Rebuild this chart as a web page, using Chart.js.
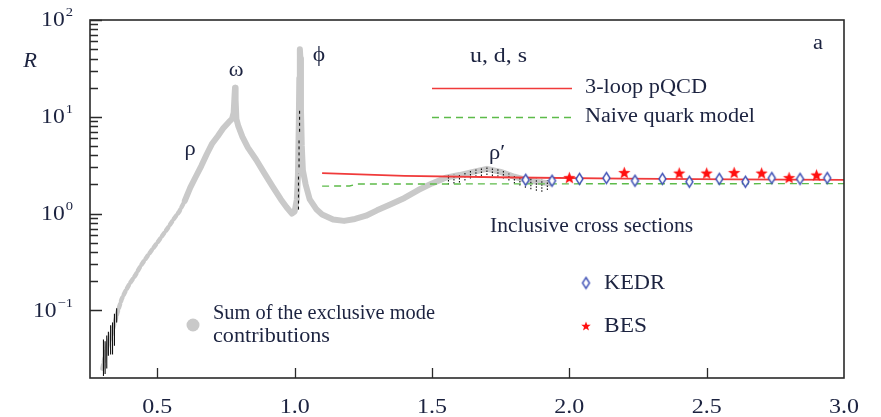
<!DOCTYPE html>
<html>
<head>
<meta charset="utf-8">
<script src="https://cdn.jsdelivr.net/npm/chart.js@4.4.1/dist/chart.umd.min.js"></script>
<style>
  html, body { margin: 0; padding: 0; background: #fff; }
  #wrap { width: 881px; height: 417px; }
</style>
</head>
<body>
<div id="wrap"><canvas id="c" width="881" height="417"></canvas></div>
<script>
// R ratio of e+e- -> hadrons below 3 GeV (u, d, s region)

// Axis ticks
const xTicks = [0.5, 1.0, 1.5, 2.0, 2.5, 3.0];
const xTickLabels = ['0.5', '1.0', '1.5', '2.0', '2.5', '3.0'];
const yDecades = [-1, 0, 1, 2];

// Sum of the exclusive mode contributions: low-energy rise (dotted look)
const riseE = [0.300, 0.310, 0.320, 0.333, 0.345, 0.355, 0.370, 0.385, 0.400, 0.420,
               0.440, 0.460, 0.480, 0.500, 0.520, 0.540, 0.560, 0.580, 0.600];
const riseR = [0.025, 0.034, 0.045, 0.056, 0.075, 0.095, 0.13, 0.16, 0.19, 0.23,
               0.29, 0.35, 0.42, 0.50, 0.60, 0.72, 0.88, 1.05, 1.35];

// Sum of the exclusive mode contributions: rho/omega, phi and rho' region
const resE = [0.600, 0.620, 0.640, 0.660, 0.680, 0.700, 0.720, 0.740, 0.760, 0.772,
              0.778, 0.781, 0.783, 0.785, 0.788, 0.795, 0.810, 0.830, 0.860, 0.890,
              0.920, 0.950, 0.970, 0.990, 1.000, 1.008, 1.012, 1.015, 1.017, 1.019,
              1.021, 1.023, 1.026, 1.030, 1.040, 1.055, 1.080, 1.100, 1.140, 1.180,
              1.220, 1.260, 1.300, 1.350, 1.400, 1.450, 1.500, 1.550, 1.600, 1.650,
              1.700, 1.750, 1.800, 1.850, 1.900, 1.930];
const resR = [1.35, 1.85, 2.4, 3.1, 4.1, 5.3, 6.3, 7.6, 8.8, 9.5,
              11, 16, 20, 15, 9.5, 8.0, 6.2, 4.8, 3.6, 2.6,
              1.9, 1.4, 1.17, 1.0, 1.05, 1.4, 2.5, 8, 25, 50,
              40, 12, 5.0, 2.8, 2.0, 1.4, 1.1, 0.98, 0.87, 0.84,
              0.88, 0.95, 1.08, 1.25, 1.45, 1.75, 2.05, 2.35, 2.5, 2.7,
              2.9, 2.7, 2.4, 2.2, 2.1, 2.05];

// Experimental error bars on the exclusive sum: energy, lower, upper
const errE  = [0.304, 0.310, 0.316, 0.322, 0.330, 0.337, 0.344, 0.352,
               1.014, 1.016, 1.018,
               1.56, 1.58, 1.60, 1.62, 1.64, 1.66, 1.68, 1.70, 1.72, 1.74,
               1.76, 1.78, 1.80, 1.82, 1.84, 1.86, 1.88, 1.90, 1.92];
const errLo = [0.021, 0.022, 0.025, 0.034, 0.035, 0.035, 0.043, 0.075,
               1.1, 3.0, 7.0,
               2.0, 2.05, 2.1, 2.2, 2.3, 2.4, 2.45, 2.5, 2.45, 2.4,
               2.3, 2.2, 2.05, 1.95, 1.85, 1.78, 1.72, 1.68, 1.75];
const errHi = [0.050, 0.048, 0.055, 0.060, 0.070, 0.075, 0.092, 0.105,
               2.6, 6.0, 12.0,
               2.5, 2.55, 2.6, 2.65, 2.75, 2.85, 2.95, 3.05, 3.0, 2.9,
               2.8, 2.6, 2.5, 2.4, 2.35, 2.3, 2.3, 2.25, 2.2];

// Theory curves
const pqcdE  = [1.10, 1.40, 1.80, 2.20, 2.60, 3.00];
const pqcdR  = [2.62, 2.45, 2.36, 2.30, 2.26, 2.23];
const naiveE = [1.10, 1.20, 1.23, 3.00];
const naiveR = [1.92, 1.93, 2.02, 2.04];

// Inclusive measurements
const kedrE = [1.841, 1.937, 2.037, 2.135, 2.239, 2.339, 2.437, 2.546, 2.641, 2.737, 2.840, 2.939];
const kedrR = [2.23, 2.18, 2.28, 2.33, 2.18, 2.28, 2.13, 2.28, 2.13, 2.33, 2.28, 2.33];
const besE  = [2.0, 2.2, 2.4, 2.5, 2.6, 2.7, 2.8, 2.9];
const besR  = [2.35, 2.65, 2.62, 2.62, 2.65, 2.62, 2.35, 2.5];

const pts = (xs, ys) => xs.map((x, i) => ({ x: x, y: ys[i] }));

const TEXT = '#1c2340';
const SERIF = '"Liberation Serif", "Times New Roman", serif';
const GREY = '#c9c9c9';
const RED = '#f03a3a';
const GREEN = '#5dbb4a';
const BLUE = '#3d4fb5';

// Marker images: narrow open diamond and filled five-point star
function diamondImg(w, h) {
  const c = document.createElement('canvas');
  c.width = w + 4; c.height = h + 4;
  const g = c.getContext('2d');
  g.beginPath();
  g.moveTo(c.width / 2, 2);
  g.lineTo(c.width - 2, c.height / 2);
  g.lineTo(c.width / 2, c.height - 2);
  g.lineTo(2, c.height / 2);
  g.closePath();
  g.fillStyle = '#fff';
  g.fill();
  g.lineWidth = 1.4;
  g.strokeStyle = BLUE;
  g.stroke();
  return c;
}
function starImg(r) {
  const s = Math.ceil(r * 2 + 2);
  const c = document.createElement('canvas');
  c.width = s; c.height = s;
  const g = c.getContext('2d');
  const cx = s / 2, cy = s / 2 + r * 0.08;
  g.beginPath();
  for (let i = 0; i < 10; i++) {
    const rr = i % 2 === 0 ? r : r * 0.42;
    const a = -Math.PI / 2 + i * Math.PI / 5;
    const px = cx + rr * Math.cos(a), py = cy + rr * Math.sin(a);
    if (i === 0) g.moveTo(px, py); else g.lineTo(px, py);
  }
  g.closePath();
  g.fillStyle = '#ff1010';
  g.fill();
  return c;
}
const diamond = diamondImg(7, 11);
const star = starImg(6.5);
const starSmall = starImg(5);

// Text with a horizontal stretch; if width is given the string is fitted to it
function text(ctx, str, x, y, size, opts) {
  opts = opts || {};
  ctx.save();
  ctx.font = (opts.italic ? 'italic ' : '') + size + 'px ' + SERIF;
  ctx.textBaseline = 'middle';
  ctx.textAlign = 'left';
  const w = ctx.measureText(str).width;
  const sx = opts.width ? opts.width / w : (opts.sx || 1.12);
  const sw = w * sx;
  let x0 = x;
  if (opts.align === 'center') x0 = x - sw / 2;
  else if (opts.align === 'right') x0 = x - sw;
  ctx.translate(x0, y);
  ctx.scale(sx, 1);
  ctx.fillText(str, 0, 0);
  ctx.restore();
  return sw;
}

function drawSup(ctx, base, sup, xRight, y) {
  ctx.save();
  ctx.font = '13px ' + SERIF;
  const ws = ctx.measureText(sup).width * 1.12;
  ctx.restore();
  text(ctx, sup, xRight - ws, y - 7, 13);
  text(ctx, base, xRight - ws - 1, y + 1, 20, { align: 'right', sx: 1.18 });
}

const decor = {
  id: 'decor',
  afterDatasetDraw(chart, args) {
    if (args.meta.label !== 'exclusive') return;
    const { ctx, scales: { x, y } } = chart;
    ctx.save();
    ctx.strokeStyle = '#111';
    ctx.lineWidth = 1.1;
    for (let i = 0; i < errE.length; i++) {
      const px = x.getPixelForValue(errE[i]);
      const y0 = y.getPixelForValue(errLo[i]);
      const y1 = y.getPixelForValue(errHi[i]);
      ctx.setLineDash(errE[i] > 1.5 ? [1.5, 1.5] : (errE[i] > 1 ? [3, 3] : []));
      ctx.beginPath();
      ctx.moveTo(px, y0);
      ctx.lineTo(px, y1);
      ctx.stroke();
    }
    ctx.restore();
  },
  afterDraw(chart) {
    const { ctx, chartArea: a, scales: { x, y } } = chart;
    ctx.save();
    // frame
    ctx.strokeStyle = '#2a2a2a';
    ctx.lineWidth = 1.6;
    ctx.strokeRect(a.left, a.top, a.right - a.left, a.bottom - a.top);
    // inward ticks on x
    ctx.lineWidth = 1.3;
    ctx.beginPath();
    xTicks.forEach(v => {
      const px = Math.round(x.getPixelForValue(v)) + 0.5;
      if (px > a.right - 2) return;
      ctx.moveTo(px, a.bottom);
      ctx.lineTo(px, a.bottom - 10);
    });
    // inward ticks on y (decades and 2..9)
    yDecades.forEach(d => {
      for (let m = 1; m <= 9; m++) {
        const v = m * Math.pow(10, d);
        if (v < y.min || v > y.max) continue;
        const py = Math.round(y.getPixelForValue(v)) + 0.5;
        ctx.moveTo(a.left, py);
        ctx.lineTo(a.left + (m === 1 ? 12 : 8), py);
      }
    });
    ctx.stroke();

    ctx.fillStyle = TEXT;
    // x tick labels
    xTicks.forEach((v, i) => text(ctx, xTickLabels[i], x.getPixelForValue(v), a.bottom + 30, 20,
      { align: 'center', sx: 1.2 }));
    // y tick labels 10^n
    yDecades.forEach(d => {
      const sup = d < 0 ? '\u2212' + Math.abs(d) : String(d);
      drawSup(ctx, '10', sup, a.left - 17, y.getPixelForValue(Math.pow(10, d)));
    });

    // axis title
    text(ctx, 'R', 30, 62, 20, { italic: true, align: 'center' });

    // resonance labels
    text(ctx, '\u03c9', 236, 71, 20, { align: 'center' });
    text(ctx, '\u03c1', 190, 150, 20, { align: 'center' });
    text(ctx, '\u03d5', 319, 55, 21, { align: 'center' });
    text(ctx, '\u03c1\u2032', 497, 154, 20, { align: 'center' });
    text(ctx, 'a', 818, 44, 20, { align: 'center' });

    // theory legend
    text(ctx, 'u, d, s', 470, 57, 20, { width: 57 });
    text(ctx, '3-loop pQCD', 585, 88, 20, { width: 122 });
    text(ctx, 'Naive quark model', 585, 117, 20, { width: 170 });
    ctx.lineWidth = 1.4;
    ctx.strokeStyle = RED;
    ctx.beginPath(); ctx.moveTo(432, 88.5); ctx.lineTo(572, 88.5); ctx.stroke();
    ctx.strokeStyle = GREEN;
    ctx.setLineDash([7, 5]);
    ctx.beginPath(); ctx.moveTo(432, 117.5); ctx.lineTo(572, 117.5); ctx.stroke();
    ctx.setLineDash([]);

    // data legend
    text(ctx, 'Inclusive cross sections', 490, 227, 20, { width: 203 });
    text(ctx, 'KEDR', 604, 283, 21, { width: 61 });
    text(ctx, 'BES', 604, 326, 21, { width: 43 });
    ctx.drawImage(diamond, 586 - diamond.width / 2, 283 - diamond.height / 2);
    ctx.drawImage(starSmall, 586 - starSmall.width / 2, 326 - starSmall.height / 2);

    text(ctx, 'Sum of the exclusive mode', 213, 314, 20, { width: 222 });
    text(ctx, 'contributions', 213, 337, 20, { width: 117 });
    ctx.fillStyle = GREY;
    ctx.beginPath(); ctx.arc(193, 325, 6.5, 0, Math.PI * 2); ctx.fill();
    ctx.restore();
  }
};

new Chart(document.getElementById('c'), {
  type: 'scatter',
  data: {
    datasets: [
      { label: 'BES', data: pts(besE, besR), pointStyle: star, order: 0 },
      { label: 'KEDR', data: pts(kedrE, kedrR), pointStyle: diamond, order: 0 },
      { label: 'pQCD', data: pts(pqcdE, pqcdR), showLine: true, borderColor: RED,
        borderWidth: 1.8, pointRadius: 0, order: 1 },
      { label: 'naive', data: pts(naiveE, naiveR), showLine: true, borderColor: GREEN,
        borderWidth: 1.4, borderDash: [7, 5], pointRadius: 0, order: 1 },
      { label: 'exclusive', data: pts(resE, resR), showLine: true, borderColor: GREY,
        borderWidth: 6, borderJoinStyle: 'round', borderCapStyle: 'round', pointRadius: 0, order: 3 },
      { label: 'exclusive-rise', data: pts(riseE, riseR), showLine: true, borderColor: GREY,
        borderWidth: 4.5, borderDash: [4, 3], borderCapStyle: 'round', pointRadius: 0, order: 4 }
    ]
  },
  options: {
    responsive: false,
    animation: false,
    events: [],
    layout: { padding: { left: 90, right: 37, top: 20, bottom: 39 } },
    plugins: { legend: { display: false }, tooltip: { enabled: false } },
    scales: {
      x: { type: 'linear', min: 0.255, max: 3.0, display: false },
      y: { type: 'logarithmic', min: 0.02, max: 100, display: false }
    }
  },
  plugins: [decor]
});
</script>
</body>
</html>
